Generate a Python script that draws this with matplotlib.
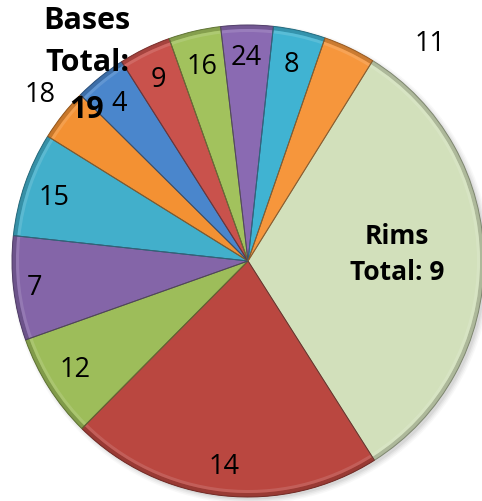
import matplotlib
matplotlib.use("Agg")
import matplotlib.pyplot as plt
from matplotlib.patches import Wedge, Circle
import matplotlib.colors as mcolors
import numpy as np

# ---- data (clockwise from the "Rims" slice) ----
categories = ["Rims", "R1", "G1", "P1", "T1", "O1", "B2", "R2", "G2", "P2", "T2", "O2"]
values = [9, 6, 2, 2, 2, 1, 1, 1, 1, 1, 1, 1]
colors = ["#D2E0BB", "#BA4740", "#9DBD5A", "#8465A8", "#42AFCB", "#F39133",
          "#4A86CC", "#C9524C", "#A2C25D", "#8A6AB2", "#40B3D2", "#F6963C"]
slice_labels = ["", "14", "12", "7", "15", "", "4", "9", "16", "24", "8", ""]

W, H = 482, 502
fig = plt.figure(figsize=(W / 100, H / 100), dpi=100)
ax = fig.add_axes([0, 0, 1, 1])

cx, cy, R = 248, H - 262, 236
start = 58.1

# soft shadow
for i, a in enumerate([0.05, 0.07, 0.09, 0.12]):
    ax.add_patch(Circle((cx + 3, cy - 3), R + 4 - i * 1.5, color="#808080",
                        alpha=a, lw=0, zorder=0))

wedges, _ = ax.pie(values, colors=colors, startangle=start, counterclock=False,
                   center=(cx, cy), radius=R,
                   wedgeprops=dict(linewidth=0))
for w in wedges:
    w.set_zorder(1)

# bevel effect: darker outer rim band, lighter inner band, darker own-colour edges
for w, c in zip(wedges, colors):
    rgb = np.array(mcolors.to_rgb(c))
    dark = tuple(rgb * 0.78)
    light = tuple(rgb + (1 - rgb) * 0.22)
    t1, t2 = w.theta1, w.theta2
    ax.add_patch(Wedge((cx, cy), R, t1, t2, width=4, color=dark, lw=0, zorder=2, alpha=0.8))
    ax.add_patch(Wedge((cx, cy), R - 4, t1, t2, width=3, color=light, lw=0, zorder=2, alpha=0.6))
    ax.add_patch(Wedge((cx, cy), R, t1, t2, fill=False, ec=tuple(rgb * 0.6), lw=0.7, zorder=3))

# slice numeric labels (pixel positions)
label_pos = [None, (224, 467), (75, 370), (34, 288), (54, 198), None,
             (119, 104), (158, 80), (202, 67), (246, 58), (291, 65), None]
font = "Open Sans"
fs = 19.5
for txt, pos in zip(slice_labels, label_pos):
    if txt and pos:
        ax.text(pos[0], H - pos[1], txt, ha="center", va="center",
                fontsize=fs, family=font, color="black", zorder=5)

# outside labels
ax.text(430, H - 44, "11", ha="center", va="center", fontsize=fs, family=font, zorder=5)
ax.text(40.5, H - 94.5, "18", ha="center", va="center", fontsize=fs, family=font, zorder=5)

# bold group labels
ax.text(87, H - 21, "Bases", ha="center", va="center", fontsize=22, family=font,
        weight="bold", zorder=5)
ax.text(87, H - 63, "Total:", ha="center", va="center", fontsize=22, family=font,
        weight="bold", zorder=5)
ax.text(87, H - 110, "19", ha="center", va="center", fontsize=22, family=font,
        weight="bold", zorder=5)
ax.text(397, H - 237, "Rims", ha="center", va="center", fontsize=19, family=font,
        weight="bold", zorder=5)
ax.text(397, H - 273, "Total: 9", ha="center", va="center", fontsize=19, family=font,
        weight="bold", zorder=5)

ax.set_xlim(0, W)
ax.set_ylim(0, H)
ax.set_aspect("equal")
ax.axis("off")
fig.savefig("out.png", dpi=100)
